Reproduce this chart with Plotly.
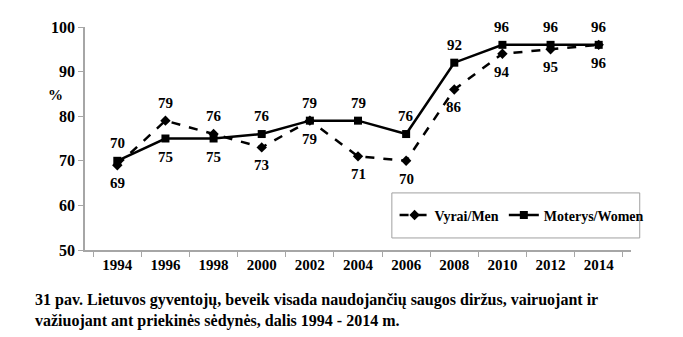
import plotly.graph_objects as go

years = ["1994", "1996", "1998", "2000", "2002", "2004", "2006", "2008", "2010", "2012", "2014"]
men = [69, 79, 76, 73, 79, 71, 70, 86, 94, 95, 96]
women = [70, 75, 75, 76, 79, 79, 76, 92, 96, 96, 96]
# +1 = label above the point, -1 = label below
men_label_side = [-1, 1, 1, -1, -1, -1, -1, -1, -1, -1, -1]
women_label_side = [1, -1, -1, 1, 1, 1, 1, 1, 1, 1, 1]
yticks = [50, 60, 70, 80, 90, 100]

FONT = "Liberation Serif"
fig = go.Figure()
fig.add_trace(go.Scatter(
    x=years, y=men, name="<b>Vyrai/Men</b>", mode="lines+markers",
    line=dict(color="black", width=2.5, dash="dash"),
    marker=dict(symbol="diamond", size=8, color="black"),
))
fig.add_trace(go.Scatter(
    x=years, y=women, name="<b>Moterys/Women</b>", mode="lines+markers",
    line=dict(color="black", width=2.5),
    marker=dict(symbol="square", size=8, color="black"),
))

annotations = []
for vals, sides in ((men, men_label_side), (women, women_label_side)):
    for i, (v, s) in enumerate(zip(vals, sides)):
        annotations.append(dict(x=i, y=v, xref="x", yref="y", text="<b>%d</b>" % v,
                                showarrow=False, yshift=18 * s,
                                font=dict(family=FONT, size=15, color="black")))

annotations += [
    dict(text="<b>%</b>", xref="paper", yref="paper", x=-0.072, y=0.74, showarrow=False,
         font=dict(family=FONT, size=15)),
    dict(text="<b>31 pav. Lietuvos gyventojų, beveik visada naudojančių saugos diržus, vairuojant ir<br>"
              "važiuojant ant priekinės sėdynės, dalis 1994 - 2014 m.</b>",
         xref="paper", yref="paper", x=-0.095, y=-0.175, xanchor="left", yanchor="top",
         align="left", showarrow=False, font=dict(family=FONT, size=16)),
]

fig.update_layout(
    width=683, height=337,
    margin=dict(l=85, r=52, t=27, b=87),
    paper_bgcolor="white", plot_bgcolor="white",
    font=dict(family=FONT, size=15, color="black"),
    showlegend=True,
    legend=dict(orientation="h", x=0.567, y=0.155, xanchor="left", yanchor="middle",
                borderwidth=0, bgcolor="rgba(0,0,0,0)",
                font=dict(family=FONT, size=14, color="black"),
                itemwidth=30),
    shapes=[dict(type="rect", xref="paper", yref="paper", x0=0.562, x1=1.016, y0=0.054, y1=0.256,
                 line=dict(color="#a0a0a0", width=1), fillcolor="white", layer="below")],
    xaxis=dict(type="category", showline=True, linecolor="#a6a6a6", linewidth=1.5,
               ticks="outside", tickson="boundaries", ticklen=5, tickcolor="#a6a6a6",
               showgrid=False, tickvals=years, ticktext=["<b>%s</b>" % y for y in years],
               tickfont=dict(family=FONT, size=15, color="black")),
    yaxis=dict(range=[50, 100], showline=True, linecolor="#a6a6a6", linewidth=1.5,
               ticks="outside", ticklen=5, tickcolor="#a6a6a6", showgrid=False, zeroline=False,
               tickvals=yticks, ticktext=["<b>%d</b>" % v for v in yticks],
               tickfont=dict(family=FONT, size=16, color="black")),
    annotations=annotations,
)
fig.write_html("out.html")
